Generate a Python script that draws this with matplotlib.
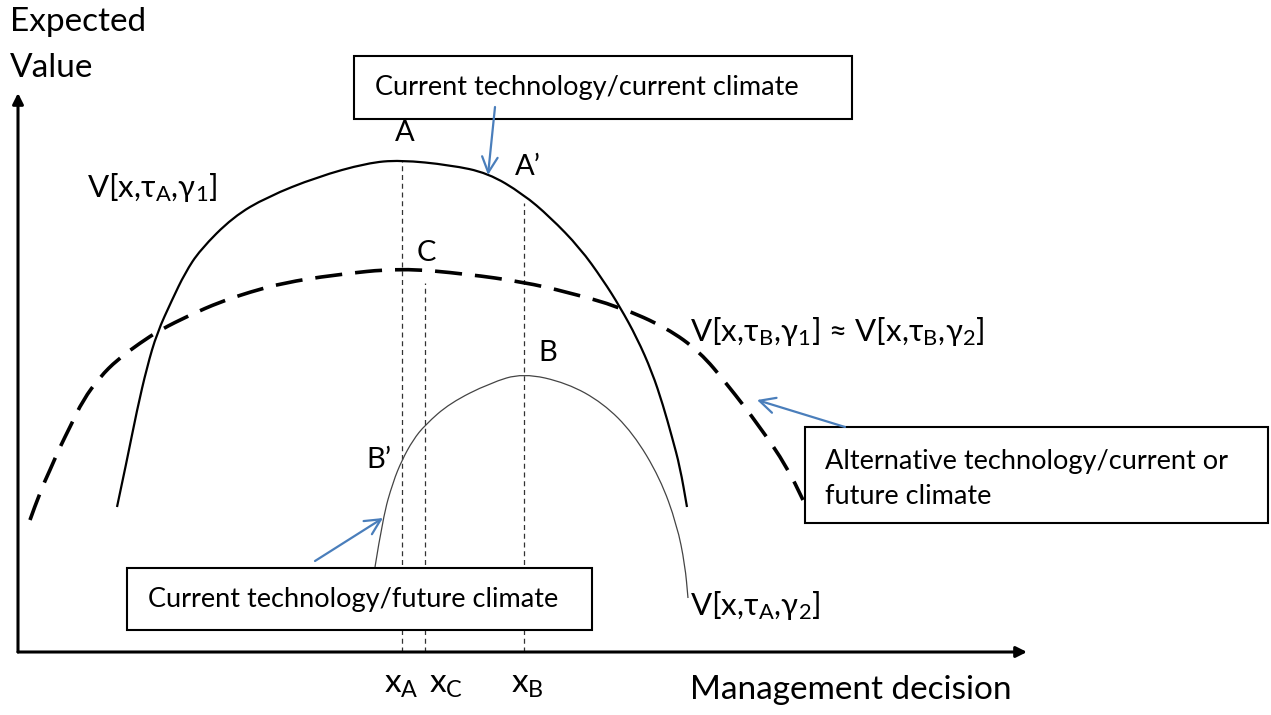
import matplotlib.pyplot as plt
from matplotlib.patches import Rectangle, PathPatch
from matplotlib.path import Path

plt.rcParams['font.family'] = ['Lato', 'DejaVu Sans']
plt.rcParams['mathtext.fontset'] = 'custom'
plt.rcParams['mathtext.rm'] = 'Lato'
plt.rcParams['mathtext.it'] = 'Lato:italic'
plt.rcParams['mathtext.bf'] = 'Lato:bold'

# curves (management decision x, expected value y)
cur_tech_cur_clim_x = [99, 109, 119, 129, 139, 154, 167, 182, 215, 249, 299, 349, 382, 432,
                       470, 505, 532, 562, 585, 602, 619, 634, 645, 654, 662, 669]
cur_tech_cur_clim_y = [145, 192, 242, 285, 319, 352, 379, 402, 435, 455, 475, 489, 492, 487,
                       479, 458, 435, 404, 372, 345, 314, 280, 247, 215, 185, 145]

alt_tech_x = [12, 22, 32, 42, 52, 65, 82, 99, 122, 142, 172, 202, 232, 265, 315, 382, 449,
              505, 549, 602, 649, 682, 709, 742, 769, 785]
alt_tech_y = [132, 160, 182, 205, 225, 252, 275, 292, 309, 322, 337, 350, 360, 369, 377, 384,
              378, 370, 360, 345, 324, 300, 268, 225, 185, 152]

cur_tech_fut_clim_x = [357, 365, 375, 384, 395, 407, 432, 472, 505, 549, 585, 615, 642, 659,
                       667, 670]
cur_tech_fut_clim_y = [85, 135, 170, 192, 212, 227, 249, 269, 279, 269, 249, 219, 174, 127,
                       87, 54]

# optimum decisions and where the guide lines stop
guide_x = [384, 407, 506]
guide_top = [492, 369, 449]
guide_names = ['A', 'C', 'B']


def smooth_path(xs, ys):
    # quadratic bezier through the midpoints, the read points act as control points
    verts = [(xs[0], ys[0])]
    codes = [Path.MOVETO]
    for i in range(1, len(xs) - 1):
        verts += [(xs[i], ys[i]), ((xs[i] + xs[i + 1]) / 2, (ys[i] + ys[i + 1]) / 2)]
        codes += [Path.CURVE3, Path.CURVE3]
    verts.append((xs[-1], ys[-1]))
    codes.append(Path.LINETO)
    return Path(verts, codes)


fig = plt.figure(figsize=(12.71, 7.15), dpi=100)
ax = fig.add_axes([0, 0, 1, 1])
ax.set_xlim(-18, 1253)
ax.set_ylim(-63, 652)
ax.axis('off')

# axes with arrow heads
for tip in [(0, 559), (1009, 0)]:
    ax.annotate('', xy=tip, xytext=(0, 0),
                arrowprops=dict(arrowstyle='-|>', lw=2.2, color='black', mutation_scale=16,
                                shrinkA=0, shrinkB=0))

# curves
ax.add_patch(PathPatch(smooth_path(cur_tech_cur_clim_x, cur_tech_cur_clim_y), fill=False,
                       edgecolor='black', lw=1.6, zorder=2))
ax.add_patch(PathPatch(smooth_path(alt_tech_x, alt_tech_y), fill=False, edgecolor='black',
                       lw=2.6, linestyle=(0, (7.5, 3.6)), capstyle='butt', zorder=2))
ax.add_patch(PathPatch(smooth_path(cur_tech_fut_clim_x, cur_tech_fut_clim_y), fill=False,
                       edgecolor='#444444', lw=0.9, zorder=2))

for gx, gt in zip(guide_x, guide_top):
    ax.plot([gx, gx], [0, gt], color='#333333', lw=0.9, linestyle=(0, (4, 3)), zorder=1)

# point labels
pfs = 21
ax.text(387, 519, 'A', fontsize=pfs, ha='center', va='center')
ax.text(510, 485, 'A\u2019', fontsize=pfs, ha='center', va='center')
ax.text(408, 399, 'C', fontsize=pfs, ha='center', va='center')
ax.text(530, 299, 'B', fontsize=pfs, ha='center', va='center')
ax.text(361, 192, 'B\u2019', fontsize=pfs, ha='center', va='center')

# curve formulas
ffs = 22.5
ax.text(69, 464, r'V[x,τ$_\mathregular{A}$,γ$_\mathregular{1}$]', fontsize=ffs, va='center')
ax.text(672, 320, r'V[x,τ$_\mathregular{B}$,γ$_\mathregular{1}$] ≈ V[x,τ$_\mathregular{B}$,γ$_\mathregular{2}$]',
        fontsize=ffs, va='center')
ax.text(672, 47, r'V[x,τ$_\mathregular{A}$,γ$_\mathregular{2}$]', fontsize=ffs, va='center')

# axis titles and decision ticks
afs = 24
ax.text(-8, 630, 'Expected', fontsize=afs, va='center')
ax.text(-8, 584, 'Value', fontsize=afs, va='center')
ax.text(672, -38, 'Management decision', fontsize=afs, va='center')
for gx, name, dx in zip(guide_x, guide_names, [-18, 4, -13]):
    ax.text(gx + dx, -33, r'x$_\mathregular{%s}$' % name, fontsize=afs, va='center')

# callout boxes
bfs = 19.5
boxes = [((336, 533), 498, 63, 'Current technology/current climate', (357, 565)),
         ((787, 129), 463, 96, 'Alternative technology/current or\nfuture climate', (807, 173)),
         ((109, 22), 465, 62, 'Current technology/future climate', (130, 52))]
for (bx, by), bw, bh, label, (tx, ty) in boxes:
    ax.add_patch(Rectangle((bx, by), bw, bh, facecolor='white', edgecolor='black', lw=1.5,
                           zorder=3))
    ax.text(tx, ty, label, fontsize=bfs, va='center', linespacing=1.45, zorder=4)

# blue callout arrows
blue = '#4A7EBB'
for start, tip in [((477, 545), (470, 477)), ((827, 225), (739, 252)), ((297, 91), (365, 134))]:
    ax.annotate('', xy=tip, xytext=start, zorder=5,
                arrowprops=dict(arrowstyle='->', lw=1.6, color=blue, mutation_scale=28,
                                shrinkA=0, shrinkB=0))

fig.savefig('out.png', dpi=100)
